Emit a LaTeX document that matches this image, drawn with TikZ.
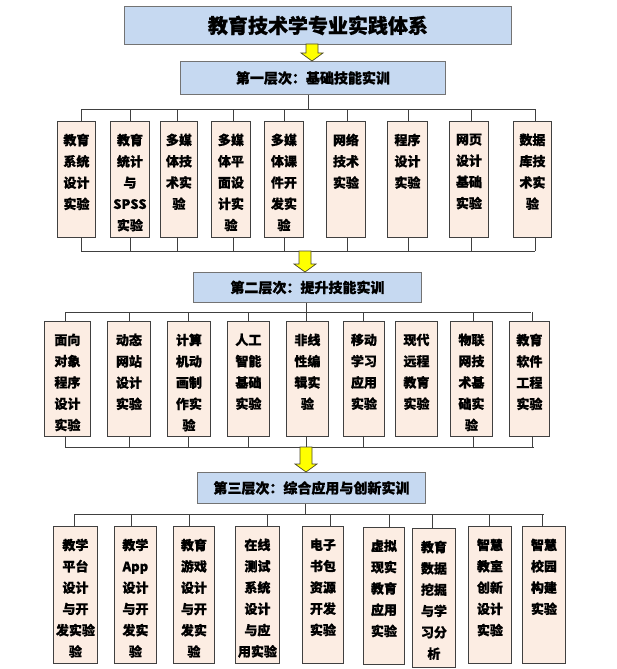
\documentclass[tikz,border=0pt]{standalone}
\usepackage{fontspec}
\newfontfamily\cjk{Noto Sans CJK SC}[BoldFeatures={FakeBold=0.8}]
\usetikzlibrary{calc}
\definecolor{lblue}{HTML}{C6D9F1}
\definecolor{peach}{HTML}{FCEDE3}
\definecolor{arrowy}{HTML}{FFFF00}
\newcommand\yarr[2]{\draw[yarrow] let \p1=(#1), \p2=(#2) in (\x1-6pt,\y1) -- (\x1-6pt,\y2+8pt) -- (\x1-11pt,\y2+8pt) -- (\x1,\y2) -- (\x1+11pt,\y2+8pt) -- (\x1+6pt,\y2+8pt) -- (\x1+6pt,\y1) -- cycle;}
\begin{document}
\begin{tikzpicture}[x=1pt,y=-1pt,
  titlebox/.style={draw=black!55, fill=lblue, line width=0.9pt, inner sep=0pt, anchor=north west, font=\cjk\bfseries\fontsize{20}{24}\selectfont},
  layerbox/.style={draw=black!55, fill=lblue, line width=0.9pt, inner sep=0pt, anchor=north west, font=\cjk\bfseries\fontsize{14}{16}\selectfont},
  itembox/.style={draw=black!75, fill=peach, line width=0.9pt, inner sep=0pt, anchor=north west},
  itemtext/.style={font=\cjk\bfseries\fontsize{13}{21.3}\selectfont, align=center, inner sep=0pt, anchor=north},
  bus/.style={draw=black!75, line width=0.9pt},
  yarrow/.style={draw=black!60!olive, fill=arrowy, line width=0.7pt}]
\useasboundingbox (0,0) rectangle (616,669);

% title and layer boxes
\node[titlebox, minimum width=387pt, minimum height=38pt] (T) at (124,6) {教育技术学专业实践体系};
\node[layerbox, minimum width=265pt, minimum height=33pt] (L1) at (180,61) {第一层次：基础技能实训};
\node[layerbox, minimum width=228pt, minimum height=30pt] (L2) at (193,272) {第二层次：提升技能实训};
\node[layerbox, minimum width=228pt, minimum height=31pt] (L3) at (197,472) {第三层次：综合应用与创新实训};

% ---------- row 1 ----------
\coordinate (b1a) at (81,109); \coordinate (b1b) at (535,109);
\coordinate (c1a) at (81,251); \coordinate (c1b) at (535,251);
\draw[bus] (b1a) -- (b1b);
\draw[bus] (c1a) -- (c1b);
\coordinate (l1s) at (308,109);
\draw[bus] (l1s) -- (l1s |- L1.south);
\foreach \n/\l/\r/\s/\txt in {
  1/57/95/81/{教育\\系统\\设计\\实验},
  2/110/149/130/{教育\\统计\\与\\SPSS\\实验},
  3/160/197/177/{多媒\\体技\\术实\\验},
  4/211/250/233/{多媒\\体平\\面设\\计实\\验},
  5/264/303/284/{多媒\\体课\\件开\\发实\\验},
  6/326/365/347/{网络\\技术\\实验},
  7/387/427/408/{程序\\设计\\实验},
  8/449/488/471/{网页\\设计\\基础\\实验},
  9/513/551/535/{数据\\库技\\术实\\验}}{
  \node[itembox, minimum width={(\r-\l)*1pt}, minimum height=116pt] (r1\n) at (\l,121) {};
  \node[itemtext] (t1\n) at ([yshift=-12.5pt]r1\n.north) {\txt};
  \coordinate (u1\n) at (\s,109);
  \coordinate (v1\n) at (\s,251);
  \draw[bus] (u1\n) -- (u1\n |- r1\n.north);
  \draw[bus] (v1\n) -- (v1\n |- r1\n.south);
}
\coordinate (a2s) at (305,251);
\yarr{a2s}{L2.north}
\coordinate (a1s) at (312,44);
\yarr{a1s}{L1.north}

% ---------- row 2 ----------
\coordinate (b2a) at (65,312); \coordinate (b2b) at (531,312);
\coordinate (c2a) at (65,447); \coordinate (c2b) at (534,447);
\draw[bus] (b2a) -- (b2b);
\draw[bus] (c2a) -- (c2b);
\coordinate (l2s) at (306,312);
\draw[bus] (l2s) -- (l2s |- L2.south);
\foreach \n/\l/\r/\s/\txt in {
  1/44/90/65/{面向\\对象\\程序\\设计\\实验},
  2/107/150/129/{动态\\网站\\设计\\实验},
  3/167/210/188/{计算\\机动\\画制\\作实\\验},
  4/227/269/248/{人工\\智能\\基础\\实验},
  5/286/328/306/{非线\\性编\\辑实\\验},
  6/343/384/363/{移动\\学习\\应用\\实验},
  7/395/437/0/{现代\\远程\\教育\\实验},
  8/450/492/473/{物联\\网技\\术基\\础实\\验},
  9/509/549/532/{教育\\软件\\工程\\实验}}{
  \node[itembox, minimum width={(\r-\l)*1pt}, minimum height=115pt] (r2\n) at (\l,321) {};
  \node[itemtext] (t2\n) at ([yshift=-12.5pt]r2\n.north) {\txt};
  \ifnum\s>0
    \coordinate (u2\n) at (\s,312);
    \coordinate (v2\n) at (\s,447);
    \draw[bus] (u2\n) -- (u2\n |- r2\n.north);
    \draw[bus] (v2\n) -- (v2\n |- r2\n.south);
  \fi
}
\coordinate (a3s) at (306,447);
\yarr{a3s}{L3.north}

% ---------- row 3 ----------
\coordinate (b3a) at (74,514); \coordinate (b3b) at (544,514);
\draw[bus] (b3a) -- (b3b);
\coordinate (l3s) at (305,514);
\draw[bus] (l3s) -- (l3s |- L3.south);
\foreach \n/\l/\r/\s/\tp/\bt/\txt in {
  1/53/97/74/526/663/{教学\\平台\\设计\\与开\\发实验\\验},
  2/114/156/131/526/663/{教学\\App\\设计\\与开\\发实\\验},
  3/173/214/189/526/663/{教育\\游戏\\设计\\与开\\发实\\验},
  4/235/279/267/526/663/{在线\\测试\\系统\\设计\\与应\\用实验},
  5/302/343/330/526/663/{电子\\书包\\资源\\开发\\实验},
  6/363/404/389/527/664/{虚拟\\现实\\教育\\应用\\实验},
  7/412/455/432/528/667/{教育\\数据\\挖掘\\与学\\习分\\析},
  8/468/511/489/526/663/{智慧\\教室\\创新\\设计\\实验},
  9/522/565/542/526/663/{智慧\\校园\\构建\\实验}}{
  \node[itembox, minimum width={(\r-\l)*1pt}, minimum height={(\bt-\tp)*1pt}] (r3\n) at (\l,\tp) {};
  \node[itemtext] (t3\n) at ([yshift=-12.5pt]r3\n.north) {\txt};
  \coordinate (u3\n) at (\s,514);
  \draw[bus] (u3\n) -- (u3\n |- r3\n.north);
}
\end{tikzpicture}
\end{document}
